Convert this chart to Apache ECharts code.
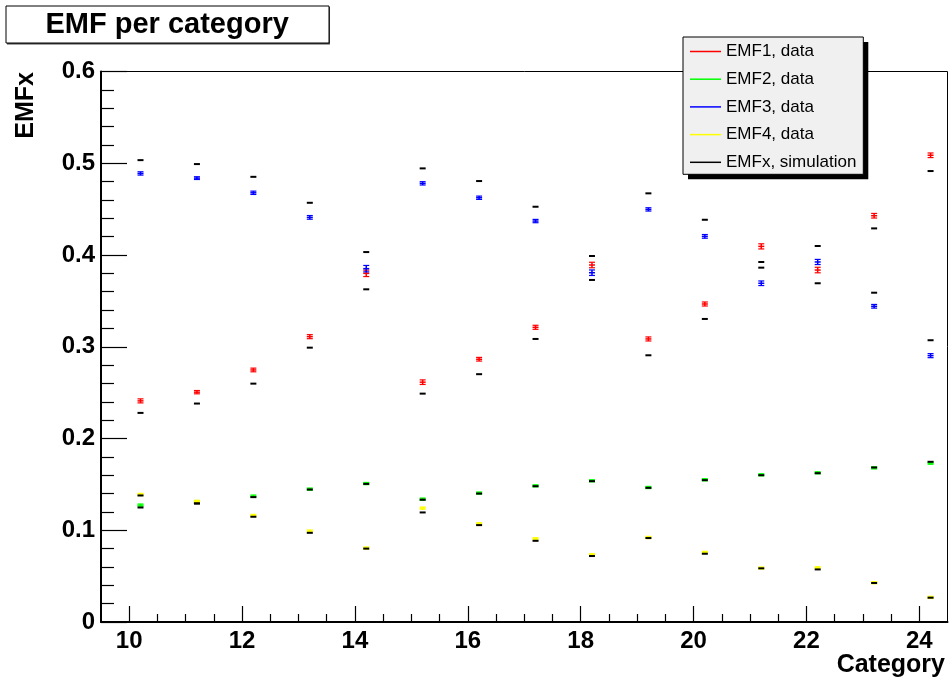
<!DOCTYPE html>
<html>
<head>
<meta charset="utf-8">
<script src="https://cdn.jsdelivr.net/npm/echarts@6/dist/echarts.min.js"></script>
<style>html,body{margin:0;padding:0;background:#fff}#c{width:950px;height:685px}</style>
</head>
<body>
<div id="c"></div>
<script>
// ---- data ----
const categories = [10.2, 11.2, 12.2, 13.2, 14.2, 15.2, 16.2, 17.2, 18.2, 19.2, 20.2, 21.2, 22.2, 23.2, 24.2];
const emf1Data = [0.2410, 0.2505, 0.2747, 0.3110, 0.3800, 0.2614, 0.2864, 0.3212, 0.3891, 0.3085, 0.3466, 0.4094, 0.3836, 0.4428, 0.5087];
const emf1Err  = [0.0022, 0.0018, 0.0020, 0.0022, 0.0035, 0.0025, 0.0020, 0.0022, 0.0030, 0.0022, 0.0022, 0.0028, 0.0030, 0.0025, 0.0025];
const emf2Data = [0.1274, 0.1312, 0.1372, 0.1448, 0.1509, 0.1339, 0.1405, 0.1484, 0.1539, 0.1466, 0.1550, 0.1604, 0.1626, 0.1680, 0.1731];
const emf2Err  = [0.0012, 0.0012, 0.0012, 0.0012, 0.0012, 0.0012, 0.0012, 0.0012, 0.0012, 0.0012, 0.0012, 0.0012, 0.0012, 0.0012, 0.0012];
const emf3Data = [0.4889, 0.4838, 0.4678, 0.4410, 0.3851, 0.4781, 0.4624, 0.4370, 0.3807, 0.4497, 0.4203, 0.3692, 0.3924, 0.3441, 0.2903];
const emf3Err  = [0.0018, 0.0015, 0.0018, 0.0020, 0.0035, 0.0018, 0.0018, 0.0018, 0.0030, 0.0018, 0.0020, 0.0025, 0.0028, 0.0020, 0.0022];
const emf4Data = [0.1390, 0.1314, 0.1161, 0.0991, 0.0806, 0.1241, 0.1070, 0.0907, 0.0733, 0.0921, 0.0758, 0.0588, 0.0591, 0.0428, 0.0268];
const emf4Err  = [0.0012, 0.0012, 0.0012, 0.0012, 0.0012, 0.0012, 0.0012, 0.0012, 0.0012, 0.0012, 0.0012, 0.0012, 0.0012, 0.0012, 0.0012];
const sim1 = [0.2279, 0.2381, 0.2598, 0.2990, 0.3626, 0.2489, 0.2701, 0.3085, 0.3728, 0.2907, 0.3303, 0.3924, 0.3692, 0.4290, 0.4915];
const sim2 = [0.1248, 0.1292, 0.1361, 0.1444, 0.1505, 0.1333, 0.1400, 0.1480, 0.1535, 0.1462, 0.1546, 0.1600, 0.1622, 0.1684, 0.1746];
const sim3 = [0.5034, 0.4991, 0.4852, 0.4569, 0.4032, 0.4944, 0.4806, 0.4526, 0.3989, 0.4672, 0.4384, 0.3862, 0.4098, 0.3589, 0.3071];
const sim4 = [0.1379, 0.1292, 0.1147, 0.0972, 0.0800, 0.1194, 0.1056, 0.0885, 0.0719, 0.0915, 0.0744, 0.0585, 0.0573, 0.0425, 0.0265];
const xMajorTicks = [10, 12, 14, 16, 18, 20, 22, 24];
const xMinorTicks = [10.5, 11, 11.5, 12.5, 13, 13.5, 14.5, 15, 15.5, 16.5, 17, 17.5, 18.5, 19, 19.5, 20.5, 21, 21.5, 22.5, 23, 23.5];
const seriesNames = ['EMF1, data', 'EMF2, data', 'EMF3, data', 'EMF4, data', 'EMFx, simulation'];

// ---- chart ----
const FONT = 'Liberation Sans';
const colors = ['#ff0000', '#00ff00', '#0000ff', '#ffff00', '#000000'];
const chart = echarts.init(document.getElementById('c'), null, {renderer: 'canvas'});

function errRender(params, api) {
  const x = api.value(0), v = api.value(1), e = api.value(2);
  const c = api.coord([x, v]);
  const top = api.coord([x, v + e])[1];
  const bot = api.coord([x, v - e])[1];
  const hw = 3;
  const color = api.visual('color');
  return {
    type: 'group',
    children: [
      {type: 'line', shape: {x1: c[0] - hw, y1: c[1], x2: c[0] + hw, y2: c[1]}, style: {stroke: color, lineWidth: 1.5}},
      {type: 'line', shape: {x1: c[0], y1: top, x2: c[0], y2: bot}, style: {stroke: color, lineWidth: 1.5}},
      {type: 'line', shape: {x1: c[0] - hw, y1: top, x2: c[0] + hw, y2: top}, style: {stroke: color, lineWidth: 1.2}},
      {type: 'line', shape: {x1: c[0] - hw, y1: bot, x2: c[0] + hw, y2: bot}, style: {stroke: color, lineWidth: 1.2}}
    ]
  };
}
function simRender(params, api) {
  const c = api.coord([api.value(0), api.value(1)]);
  return {type: 'line', shape: {x1: c[0] - 3, y1: c[1], x2: c[0] + 3, y2: c[1]}, style: {stroke: '#000', lineWidth: 2}};
}
const dataSets = [[emf1Data, emf1Err], [emf2Data, emf2Err], [emf3Data, emf3Err], [emf4Data, emf4Err]];
const series = dataSets.map((d, k) => ({
  name: seriesNames[k],
  type: 'custom',
  itemStyle: {color: colors[k]},
  renderItem: errRender,
  encode: {x: 0, y: 1},
  data: categories.map((x, i) => [x, d[0][i], d[1][i]]),
  z: 3
}));
const simAll = [];
[sim1, sim2, sim3, sim4].forEach(s => categories.forEach((x, i) => simAll.push([x, s[i]])));
series.push({
  name: seriesNames[4],
  type: 'custom',
  itemStyle: {color: '#000'},
  renderItem: simRender,
  encode: {x: 0, y: 1},
  data: simAll,
  z: 4
});

const option = {
  animation: false,
  backgroundColor: '#ffffff',
  title: {
    text: 'EMF per category',
    left: 5.5, top: 5.5,
    padding: [5, 40, 4, 40],
    backgroundColor: '#ffffff',
    borderColor: '#000', borderWidth: 1,
    textStyle: {fontFamily: FONT, fontWeight: 'bold', fontSize: 29, color: '#000', lineHeight: 29}
  },
  legend: {
    orient: 'vertical',
    left: 683, top: 37,
    padding: [6, 0, 0, 7],
    itemWidth: 31, itemHeight: 1.5,
    itemGap: 10.7,
    z: 20,
    textStyle: {fontFamily: FONT, fontSize: 17, color: '#000', lineHeight: 17},
    data: seriesNames.map((n, k) => ({name: n, icon: 'rect', itemStyle: {color: colors[k]}}))
  },
  graphic: [
    {type: 'rect', z: 10, shape: {x: 688, y: 42, width: 180.3, height: 137.3}, style: {fill: '#000'}},
    {type: 'rect', z: 11, shape: {x: 683, y: 37, width: 180.3, height: 137.3}, style: {fill: '#f0f0f0', stroke: '#000', lineWidth: 1}},
    {type: 'rect', z: 0, shape: {x: 7, y: 7, width: 323, height: 37.5}, style: {fill: '#444'}},
    {type: 'text', z: 5, x: 26, y: 72, rotation: Math.PI / 2,
      style: {text: 'EMFx', font: 'bold 25px ' + FONT, fill: '#000', align: 'right', verticalAlign: 'middle'}},
    {type: 'text', z: 5, x: 945, y: 665,
      style: {text: 'Category', font: 'bold 25px ' + FONT, fill: '#000', align: 'right', verticalAlign: 'middle'}}
  ],
  grid: {left: 101, top: 71.5, right: 2.5, bottom: 63, show: true, borderColor: '#000', borderWidth: 1, containLabel: false},
  xAxis: [
    {
      type: 'value', min: 9.5, max: 24.5, position: 'bottom',
      axisLine: {show: true, onZero: false, lineStyle: {color: '#000', width: 2}},
      axisTick: {show: true, inside: true, length: 16, customValues: xMajorTicks, lineStyle: {color: '#000', width: 1.2}},
      axisLabel: {customValues: xMajorTicks, margin: 7, fontFamily: FONT, fontWeight: 'bold', fontSize: 24, color: '#000'},
      splitLine: {show: false}
    },
    {
      type: 'value', min: 9.5, max: 24.5, position: 'bottom', gridIndex: 0,
      axisLine: {show: false},
      axisTick: {show: true, inside: true, length: 8, customValues: xMinorTicks, lineStyle: {color: '#000', width: 1.2}},
      axisLabel: {show: false, customValues: xMinorTicks},
      splitLine: {show: false}
    }
  ],
  yAxis: {
    type: 'value', min: 0, max: 0.6, interval: 0.1,
    axisLine: {show: true, onZero: false, lineStyle: {color: '#000', width: 2}},
    axisTick: {show: true, inside: true, length: 26, lineStyle: {color: '#000', width: 1.2}},
    minorTick: {show: true, splitNumber: 5, length: 13, lineStyle: {color: '#000', width: 1.2}},
    axisLabel: {margin: 6, fontFamily: FONT, fontWeight: 'bold', fontSize: 24, color: '#000'},
    splitLine: {show: false}
  },
  series: series
};
chart.setOption(option);
</script>
</body>
</html>
